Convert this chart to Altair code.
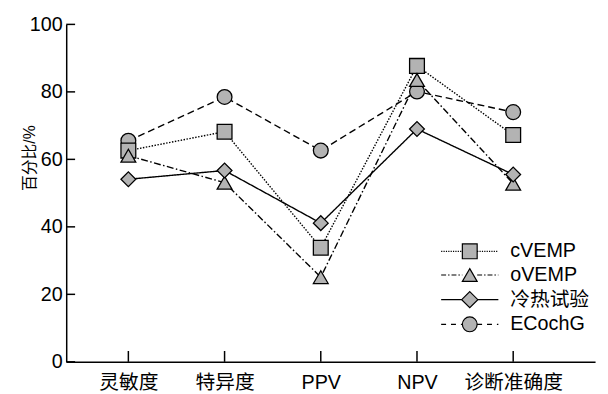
import json
import altair as alt
import pandas as pd

categories = ["灵敏度", "特异度", "PPV", "NPV", "诊断准确度"]
series = ["cVEMP", "oVEMP", "冷热试验", "ECochG"]
cvemp = [62.6, 68.2, 33.8, 87.7, 67.2]
ovemp = [61.1, 53.1, 25.1, 83.5, 52.8]
caloric = [54.1, 56.7, 41.1, 69.0, 55.5]
ecochg = [65.5, 78.5, 62.6, 80.1, 74.0]
y_ticks = [0, 20, 40, 60, 80, 100]

values = {"cVEMP": cvemp, "oVEMP": ovemp, "冷热试验": caloric, "ECochG": ecochg}
draw_order = ["ECochG", "cVEMP", "oVEMP", "冷热试验"]
rows = []
for s in draw_order:
    for i, v in enumerate(values[s]):
        rows.append({"series": s, "idx": i, "value": v})
df = pd.DataFrame(rows)

FONT = "Liberation Sans, Noto Sans CJK SC, sans-serif"
GRAY = "#b3b3b3"
dashes = {"cVEMP": [1.5, 1.5], "oVEMP": [7, 2.5, 1.5, 2.5], "冷热试验": [1, 0], "ECochG": [7, 4]}
shapes = ["square", "triangle-up", "diamond", "circle"]
sizes = [225, 225, 275, 225]

# legend symbols: line pattern + marker; symbolSize 256 -> 1 unit = 8px
U = 8.0
leg_dash = {"cVEMP": [1.2, 1.2], "oVEMP": [5, 2, 1.5, 2], "冷热试验": None, "ECochG": [5, 5]}


def segs(x0, x1, pat):
    if pat is None:
        return f"M{x0/U:.3f},0H{x1/U:.3f}"
    out = []
    x = x0
    k = 0
    on = True
    while x < x1:
        l = pat[k % len(pat)]
        e = min(x + l, x1)
        if on:
            out.append(f"M{x/U:.3f},0H{e/U:.3f}")
        x = e
        k += 1
        on = not on
    return "".join(out)


def marker(kind):
    if kind == "square":
        r = 7.5 / U
        return f"M{-r:.3f},{-r:.3f}H{r:.3f}V{r:.3f}H{-r:.3f}Z"
    if kind == "triangle-up":
        r = 7.5 / U
        h = 6.5 / U
        return f"M0,{-h:.3f}L{r:.3f},{h:.3f}L{-r:.3f},{h:.3f}Z"
    if kind == "diamond":
        r = 8.2 / U
        return f"M0,{-r:.3f}L{r:.3f},0L0,{r:.3f}L{-r:.3f},0Z"
    r = 7.5 / U
    return f"M{r:.3f},0A{r:.3f},{r:.3f} 0 1,1 {-r:.3f},0A{r:.3f},{r:.3f} 0 1,1 {r:.3f},0Z"


half = {"square": 7.5, "triangle-up": 7.5, "diamond": 8.2, "circle": 7.5}
legend_paths = []
for s, sh in zip(series, shapes):
    p = segs(-29, -half[sh], leg_dash[s]) + segs(half[sh], 29, leg_dash[s]) + marker(sh)
    legend_paths.append(p)

xscale = alt.Scale(domain=[-0.646, 4.851], nice=False, zero=False)
yscale = alt.Scale(domain=[0, 100], nice=False)
label_expr = json.dumps(categories, ensure_ascii=False) + "[datum.value]"

base = alt.Chart(df)

lines = base.mark_line(color="black", strokeWidth=1.4).encode(
    x=alt.X("idx:Q", scale=xscale,
            axis=alt.Axis(values=list(range(len(categories))), labelExpr=label_expr,
                          title=None, ticks=False, tickSize=0, grid=False,
                          labelFontSize=20, labelFont=FONT, labelColor="black",
                          labelPadding=11, labelFlush=False, labelOverlap=False,
                          domainColor="black", domainWidth=1.5)),
    y=alt.Y("value:Q", scale=yscale,
            axis=alt.Axis(values=y_ticks, title="百分比/%", ticks=False, tickSize=0,
                          grid=False, labelFontSize=20, labelFont=FONT,
                          labelColor="black", labelPadding=4, domainColor="black",
                          domainWidth=1.5, titleFont=FONT, titleFontSize=16,
                          titleFontWeight="normal", titleColor="black",
                          titleX=-37, titleY=135, titleAngle=-90,
                          titleAlign="center", titleBaseline="middle")),
    strokeDash=alt.StrokeDash("series:N", scale=alt.Scale(domain=series,
                              range=[dashes[s] for s in series]), legend=None),
    detail="series:N",
)

points = base.mark_point(filled=True, opacity=1).encode(
    x="idx:Q",
    y="value:Q",
    shape=alt.Shape("series:N", scale=alt.Scale(domain=series, range=shapes), legend=None),
    size=alt.Size("series:N", scale=alt.Scale(domain=series, range=sizes), legend=None),
    fill=alt.value(GRAY),
    stroke=alt.value("black"),
    strokeWidth=alt.value(1.3),
)

ghost = base.transform_filter("false").mark_point(filled=True, opacity=1).encode(
    x="idx:Q",
    y="value:Q",
    shape=alt.Shape("lseries:N", scale=alt.Scale(domain=series, range=legend_paths),
                    legend=alt.Legend(title=None, orient="none", legendX=399, legendY=220,
                                      padding=0, symbolSize=256, symbolStrokeWidth=1.2,
                                      labelFontSize=20, labelFont=FONT, labelColor="black",
                                      labelOffset=31, rowPadding=4)),
    fill=alt.value(GRAY),
    stroke=alt.value("black"),
    strokeWidth=alt.value(1.2),
)

ytick_df = pd.DataFrame({"value": y_ticks})
yticks = alt.Chart(ytick_df).mark_rule(color="black", strokeWidth=1.5).encode(
    y="value:Q", x=alt.value(0), x2=alt.value(9))

xtick_df = pd.DataFrame({"idx": list(range(len(categories)))})
xticks = alt.Chart(xtick_df).mark_rule(color="black", strokeWidth=1.5).encode(
    x="idx:Q", y=alt.value(342), y2=alt.value(331))

chart = alt.layer(lines, yticks, xticks, points, ghost).resolve_scale(
    shape="independent"
).properties(
    width=536, height=342,
    autosize=alt.AutoSizeParams(type="none"),
    padding={"left": 59, "top": 14, "right": 5, "bottom": 30},
).configure_view(strokeWidth=0)

chart.save("out.html", embed_options={"renderer": "svg", "actions": False})
